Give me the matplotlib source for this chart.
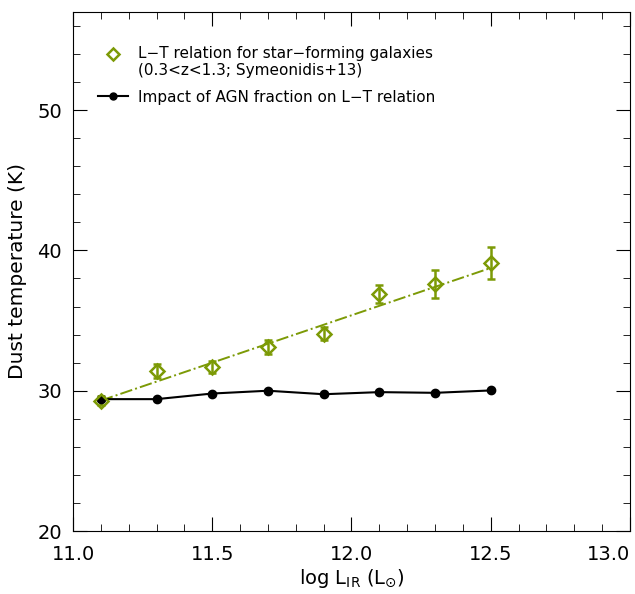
import matplotlib
matplotlib.use('Agg')
import matplotlib.pyplot as plt
from matplotlib.lines import Line2D
from matplotlib.legend_handler import HandlerLine2D
from matplotlib.ticker import MultipleLocator

# L-T relation for star-forming galaxies (Symeonidis+13)
log_lir = [11.1, 11.3, 11.5, 11.7, 11.9, 12.1, 12.3, 12.5]
t_sf = [29.3, 31.4, 31.7, 33.15, 34.05, 36.9, 37.6, 39.1]
t_sf_err = [0.35, 0.5, 0.45, 0.5, 0.47, 0.65, 1.0, 1.15]

# linear fit to the star-forming relation (end points)
fit_x = [11.1, 12.5]
fit_t = [29.3, 38.75]

# impact of AGN fraction on L-T relation
t_agn = [29.4, 29.4, 29.8, 30.0, 29.75, 29.9, 29.85, 30.02]

x_ticks = [11.0, 11.5, 12.0, 12.5, 13.0]
x_tick_labels = ['11.0', '11.5', '12.0', '12.5', '13.0']

green = '#7c9a06'


class FirstLineHandler(HandlerLine2D):
    """Put the legend marker next to the first line of a two-line label."""
    def create_artists(self, legend, orig_handle, xdescent, ydescent,
                       width, height, fontsize, trans):
        return super().create_artists(legend, orig_handle, xdescent,
                                      ydescent - 12.5, width, height,
                                      fontsize, trans)


fig = plt.figure(figsize=(6.35, 5.94), dpi=100)
ax = fig.add_axes([0.115, 0.106, 0.877, 0.874])

ax.errorbar(log_lir, t_sf, yerr=t_sf_err, fmt='D', mfc='none', mec=green,
            mew=1.8, ms=7.5, ecolor=green, elinewidth=1.8, capsize=3, capthick=1.8)
ax.plot(fit_x, fit_t, color=green, linestyle='-.', lw=1.4)
ax.plot(log_lir, t_agn, color='black', marker='o', ms=6, lw=1.5)

ax.set_xlim(11.0, 13.0)
ax.set_ylim(20, 57)
ax.set_xticks(x_ticks)
ax.set_xticklabels(x_tick_labels)
ax.xaxis.set_minor_locator(MultipleLocator(0.1))
ax.yaxis.set_major_locator(MultipleLocator(10))
ax.yaxis.set_minor_locator(MultipleLocator(2))
ax.tick_params(which='both', direction='in', top=True, right=True, labelsize=14)
ax.tick_params(which='major', length=10)
ax.tick_params(which='minor', length=5)
ax.tick_params(axis='x', pad=10)
ax.tick_params(axis='y', pad=8)
# last label sits inside the figure edge, as in the original
ax.get_xticklabels()[-1].set_horizontalalignment('right')

ax.set_xlabel(r'log L$_{\rm IR}$ (L$_{\odot}$)', fontsize=14, labelpad=2)
ax.set_ylabel('Dust temperature (K)', fontsize=14.5, labelpad=7)

sf_handle = Line2D([], [], linestyle='none', marker='D', mfc='none', mec=green,
                   mew=1.8, ms=6)
agn_handle = Line2D([], [], color='black', marker='o', ms=5, lw=1.5)
labels = [
    'L\u2212T relation for star\u2212forming galaxies\n(0.3<z<1.3; Symeonidis+13)',
    'Impact of AGN fraction on L\u2212T relation',
]
ax.legend([sf_handle, agn_handle], labels, loc='upper left',
          bbox_to_anchor=(0.02, 0.961), frameon=False, fontsize=11,
          handlelength=2.0, handletextpad=0.6, labelspacing=0.75,
          handler_map={sf_handle: FirstLineHandler()})

fig.savefig('out.png', dpi=100)
